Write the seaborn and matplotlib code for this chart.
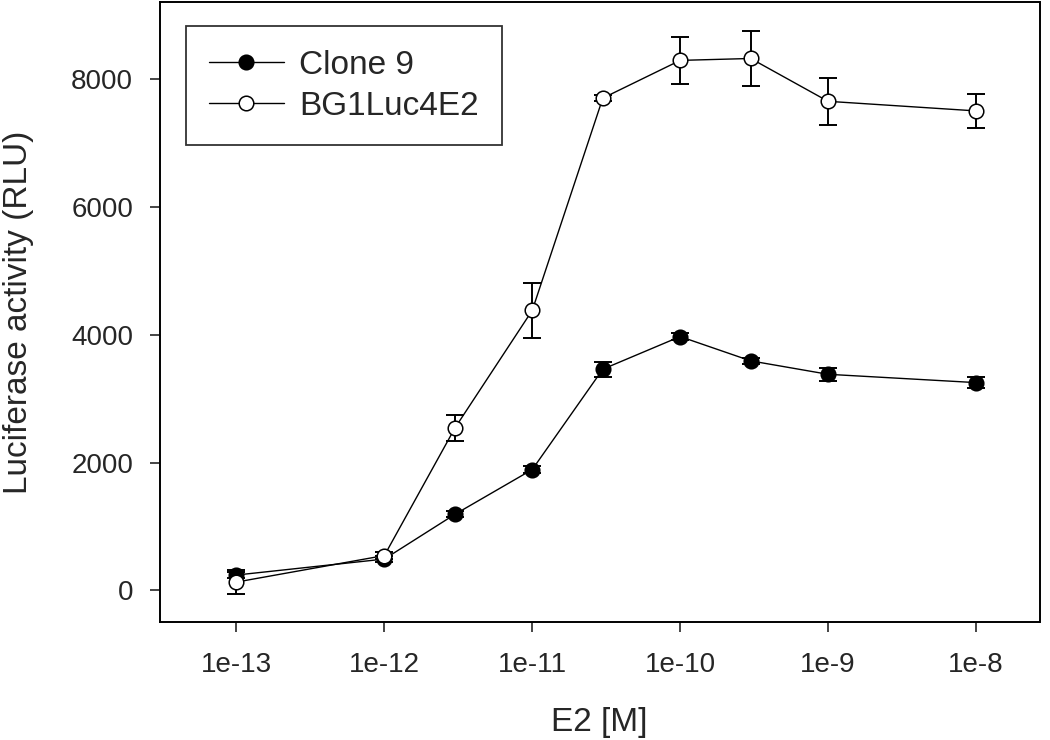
import numpy as np
import pandas as pd
import matplotlib
matplotlib.use("Agg")
import matplotlib.pyplot as plt
import seaborn as sns

# data
conc = [1e-13, 1e-12, 3e-12, 1e-11, 3e-11, 1e-10, 3e-10, 1e-9, 1e-8]
clone9 = [240, 490, 1190, 1890, 3460, 3970, 3590, 3380, 3250]
clone9_err = [50, 50, 50, 60, 120, 60, 50, 100, 90]
bg1 = [130, 545, 2540, 4380, 7700, 8290, 8320, 7650, 7500]
bg1_err = [190, 60, 210, 430, 50, 370, 430, 370, 260]
tick_vals = [1e-13, 1e-12, 1e-11, 1e-10, 1e-9, 1e-8]
tick_labels = ["1e-13", "1e-12", "1e-11", "1e-10", "1e-9", "1e-8"]

df = pd.DataFrame({
    "conc": conc * 2,
    "rlu": clone9 + bg1,
    "err": clone9_err + bg1_err,
    "line": ["Clone 9"] * len(conc) + ["BG1Luc4E2"] * len(conc),
})

sns.set_style("ticks")
plt.rcParams["font.family"] = ["Liberation Sans", "DejaVu Sans"]

fig, ax = plt.subplots(figsize=(10.5, 7.4), dpi=100)
fig.subplots_adjust(left=0.152, right=0.99, top=0.997, bottom=0.159)

face = {"Clone 9": "black", "BG1Luc4E2": "white"}
for name in ["Clone 9", "BG1Luc4E2"]:
    d = df[df["line"] == name]
    ax.errorbar(d["conc"], d["rlu"], yerr=d["err"], fmt="none",
                ecolor="black", elinewidth=1.4, capsize=6.5, capthick=1.4, zorder=2)
    sns.lineplot(x="conc", y="rlu", data=d, ax=ax, color="black", lw=1.0,
                 marker="o", markersize=10.5, markerfacecolor=face[name],
                 markeredgecolor="black", markeredgewidth=1.1, label=name,
                 zorder=3)

ax.set_xscale("log")
ax.set_xlim(10 ** -13.52, 10 ** -7.57)
ax.set_ylim(-500, 9200)
ax.set_xticks(tick_vals)
ax.set_xticklabels(tick_labels)
ax.minorticks_off()
ax.set_yticks([0, 2000, 4000, 6000, 8000])

ax.set_xlabel("E2 [M]", fontsize=24, labelpad=21)
ax.set_ylabel("Luciferase activity (RLU)", fontsize=24, labelpad=27)
ax.tick_params(axis="both", labelsize=20, length=7, width=1.2, direction="out", pad=12)
ax.tick_params(axis="x", pad=14)

for s in ax.spines.values():
    s.set_visible(True)
    s.set_linewidth(1.4)
    s.set_color("black")

leg = ax.legend(loc="upper left", bbox_to_anchor=(0.0295, 0.961), borderaxespad=0,
                fontsize=24, frameon=True, fancybox=False, edgecolor="black",
                borderpad=0.7, handlelength=2.25, handletextpad=0.45,
                labelspacing=0.3, markerscale=1.0)
leg.get_frame().set_linewidth(1.3)

fig.savefig("out.png", dpi=100)
